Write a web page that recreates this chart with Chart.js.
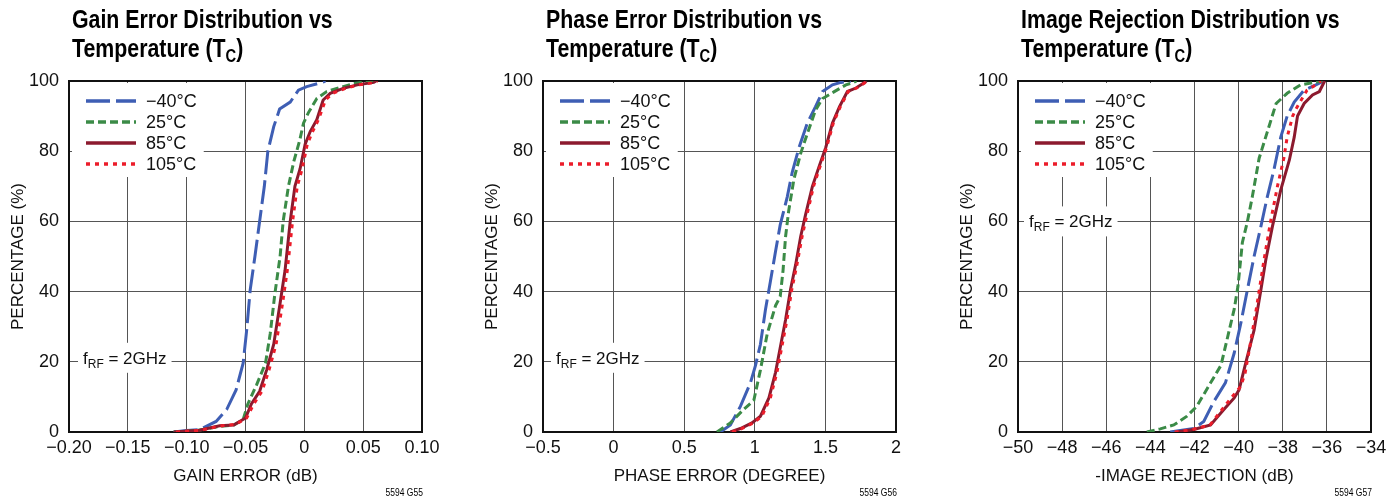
<!DOCTYPE html>
<html>
<head>
<meta charset="utf-8">
<script src="https://cdn.jsdelivr.net/npm/chart.js@4.4.1/dist/chart.umd.min.js"></script>
<style>
  body { margin: 0; background: #fff; width: 1398px; height: 499px; overflow: hidden; position: relative;
         font-family: 'Liberation Sans', Arial, sans-serif; }
  .box { position: absolute; top: 0; width: 466px; height: 499px; }
  .box canvas { position: absolute; left: 0; top: 0; }
  .title { position: absolute; top: 5px; left: 72px; font-weight: bold; font-size: 26px; line-height: 29px; color: #000;
           white-space: nowrap; transform: scaleX(0.82); transform-origin: left top; }
  .title sub { font-size: 18px; vertical-align: -5px; line-height: 0; }
  .note { position: absolute; top: 487px; right: 43px; font-size: 10px; color: #000; transform: scaleX(0.85); transform-origin: right top; }
</style>
</head>
<body>
<div class="box" style="left:0px">
  <canvas id="gain" width="466" height="499"></canvas>
  <div class="title">Gain Error Distribution vs<br>Temperature (T<sub>C</sub>)</div>
  <div class="note">5594 G55</div>
</div>
<div class="box" style="left:474px">
  <canvas id="phase" width="466" height="499"></canvas>
  <div class="title">Phase Error Distribution vs<br>Temperature (T<sub>C</sub>)</div>
  <div class="note">5594 G56</div>
</div>
<div class="box" style="left:949px">
  <canvas id="image" width="466" height="499"></canvas>
  <div class="title">Image Rejection Distribution vs<br>Temperature (T<sub>C</sub>)</div>
  <div class="note">5594 G57</div>
</div>
<script>
// series names
const seriesNames = ['\u221240\u00b0C', '25\u00b0C', '85\u00b0C', '105\u00b0C'];
const yTicks = [0, 20, 40, 60, 80, 100];

// gain error (dB) vs percentage
const gainTickValues = [-0.2, -0.15, -0.1, -0.05, 0, 0.05, 0.1];
const gainTickLabels = ['\u22120.20', '\u22120.15', '\u22120.10', '\u22120.05', '0', '0.05', '0.10'];
const gainM40 = [[-0.111,0],[-0.1,0.4],[-0.089,0.7],[-0.075,3],[-0.066,6.4],[-0.058,12],[-0.052,19.6],[-0.049,29],[-0.046,40.5],[-0.042,50],[-0.038,60],[-0.034,70],[-0.031,80],[-0.026,87],[-0.021,92],[-0.012,94],[-0.005,97.4],[0.002,98.4],[0.016,99.7],[0.018,100]];
const gain25 = [[-0.111,0],[-0.09,0.5],[-0.072,1.6],[-0.06,2],[-0.052,3.5],[-0.048,8],[-0.0405,13.5],[-0.033,19.6],[-0.029,28],[-0.025,39.5],[-0.0206,50],[-0.018,60],[-0.0135,70],[-0.009,77],[-0.004,83],[-0.0007,88],[0.0035,91],[0.0106,95],[0.019,97],[0.042,99.3],[0.059,100]];
const gain85 = [[-0.111,0],[-0.089,0.5],[-0.072,1.8],[-0.06,2],[-0.05,4],[-0.045,8],[-0.038,11.6],[-0.032,17.7],[-0.026,25],[-0.0206,36.7],[-0.0164,46],[-0.012,60],[-0.008,70],[-0.0036,75],[0.0007,82],[0.005,85.6],[0.0106,89],[0.016,94.6],[0.022,96.5],[0.033,97.9],[0.045,98.9],[0.059,99.6],[0.061,100]];
const gain105 = [[-0.109,0],[-0.088,0.5],[-0.07,1.8],[-0.058,2.2],[-0.049,4],[-0.043,8],[-0.036,11.6],[-0.03,17.7],[-0.024,25],[-0.0185,36.7],[-0.0145,46],[-0.01,60],[-0.006,70],[-0.0018,75],[0.0025,82],[0.007,85.6],[0.012,89],[0.018,94.6],[0.024,96.5],[0.035,97.9],[0.046,98.9],[0.06,99.6],[0.062,100]];

// phase error (degree) vs percentage
const phaseTickValues = [-0.5, 0, 0.5, 1, 1.5, 2];
const phaseTickLabels = ['\u22120.5', '0', '0.5', '1', '1.5', '2'];
const phaseM40 = [[0.756,0],[0.827,2],[0.898,7.3],[0.969,14],[1.005,19],[1.04,25],[1.076,35],[1.111,43],[1.147,51.5],[1.18,59],[1.23,67],[1.265,74],[1.313,81],[1.372,88],[1.43,92.7],[1.48,97],[1.55,98.9],[1.61,99.6],[1.68,100]];
const phase25 = [[0.732,0],[0.827,2.6],[0.92,6.4],[0.993,9],[1.04,17.7],[1.088,28],[1.147,36],[1.18,38.6],[1.2,46],[1.218,55.7],[1.24,63],[1.277,72],[1.325,79.4],[1.372,85],[1.43,91.7],[1.48,95],[1.56,96.9],[1.645,98.9],[1.7,99.6],[1.72,100]];
const phase85 = [[0.827,0],[0.898,1],[0.98,2.6],[1.04,4.5],[1.1,9.7],[1.147,17],[1.18,24],[1.218,32],[1.253,40.6],[1.289,47.6],[1.325,55.7],[1.36,62],[1.408,70],[1.455,75.6],[1.502,81],[1.55,88],[1.6,92.7],[1.656,97],[1.716,98],[1.775,99.5],[1.79,100]];
const phase105 = [[0.84,0],[0.91,1],[0.99,2.6],[1.05,4.5],[1.11,9.7],[1.157,17],[1.19,24],[1.228,32],[1.262,40.6],[1.298,47.6],[1.335,55.7],[1.37,62],[1.416,70],[1.462,75.6],[1.508,81],[1.556,88],[1.606,92.7],[1.662,97],[1.722,98],[1.78,99.5],[1.8,100]];

// -image rejection (dB) vs percentage
const imageTickValues = [-50, -48, -46, -44, -42, -40, -38, -36, -34];
const imageTickLabels = ['\u221250', '\u221248', '\u221246', '\u221244', '\u221242', '\u221240', '\u221238', '\u221236', '\u221234'];
const imageM40 = [[-43.1,0],[-42.03,1],[-41.58,3],[-41.12,8.7],[-40.6,14],[-40.2,22.5],[-39.9,31],[-39.6,40.6],[-39.3,50],[-38.99,58.6],[-38.7,67],[-38.4,74.7],[-38.09,84],[-37.8,90],[-37.48,94],[-37.03,97.4],[-36.5,98.9],[-36.2,99.8],[-36.1,100]];
const image25 = [[-44.16,0],[-43.55,0.9],[-42.94,2],[-42.34,4.5],[-41.9,7.3],[-41.27,14],[-40.8,19],[-40.5,27],[-40.2,35],[-40.03,41.5],[-39.83,54],[-39.6,60],[-39.38,67],[-39.07,78],[-38.7,85.5],[-38.3,93.6],[-37.8,96.5],[-37.2,98.9],[-36.4,99.8],[-36.2,100]];
const image85 = [[-42.8,0],[-42.03,0.7],[-41.27,2],[-40.67,6.4],[-40.2,9.7],[-39.98,12],[-39.68,19.6],[-39.3,29],[-38.99,40.5],[-38.77,49],[-38.47,58.5],[-38.09,69],[-37.7,77.5],[-37.48,84],[-37.33,90],[-37.03,93.6],[-36.65,96],[-36.34,97],[-36.1,100]];
const image105 = [[-42.9,0],[-42.1,0.7],[-41.3,2],[-40.75,6.4],[-40.3,10],[-39.9,13],[-39.7,17],[-39.5,24],[-39.2,35],[-38.85,49],[-38.55,60],[-38.24,70],[-37.95,78],[-37.8,84],[-37.55,90],[-37.4,92],[-36.9,97.4],[-36.6,98.5],[-36.27,100]];

const FONT = "'Liberation Sans', Arial, sans-serif";
const colors = ['#3e5eb4', '#3b8b47', '#8c1a2e', '#ec1c2a'];
const dashes = [[24, 6], [8, 4], [], [4, 5]];

function toPoints(arr) {
    return arr.map(function (p) { return {x: p[0], y: p[1]}; });
}

// legend box and f_RF note drawn inside the plot, over the grid
const insideNotes = {
    id: 'insideNotes',
    beforeDatasetsDraw: function (chart, args, opts) {
        const ctx = chart.ctx, area = chart.chartArea;
        ctx.save();
        ctx.font = '18px ' + FONT;
        let wMax = 0;
        chart.data.datasets.forEach(function (d) { wMax = Math.max(wMax, ctx.measureText(d.label).width); });
        ctx.fillStyle = '#fff';
        ctx.fillRect(area.left + 3, area.top + 2, 17 + 50 + 10 + wMax + 4, 94);
        chart.data.datasets.forEach(function (d, i) {
            const y = area.top + 20 + i * 21;
            ctx.strokeStyle = d.borderColor;
            ctx.lineWidth = 3.5;
            ctx.setLineDash(d.borderDash);
            ctx.beginPath();
            ctx.moveTo(area.left + 17, y);
            ctx.lineTo(area.left + 67, y);
            ctx.stroke();
            ctx.setLineDash([]);
            ctx.fillStyle = '#111';
            ctx.textBaseline = 'middle';
            ctx.fillText(d.label, area.left + 77, y + 1);
        });
        // f_RF = 2GHz
        const ty = chart.scales.y.getPixelForValue(opts.noteAt) + opts.noteShift;
        const tx = area.left + opts.noteLeft;
        ctx.font = '17px ' + FONT;
        const w1 = ctx.measureText('f').width;
        ctx.font = '12px ' + FONT;
        const w2 = ctx.measureText('RF').width;
        ctx.font = '17px ' + FONT;
        const w3 = ctx.measureText(' = 2GHz').width;
        ctx.fillStyle = '#fff';
        ctx.fillRect(tx - 5, ty - 15, w1 + w2 + w3 + 10, 30);
        ctx.fillStyle = '#111';
        ctx.textBaseline = 'alphabetic';
        ctx.fillText('f', tx, ty + 6);
        ctx.font = '12px ' + FONT;
        ctx.fillText('RF', tx + w1, ty + 10);
        ctx.font = '17px ' + FONT;
        ctx.fillText(' = 2GHz', tx + w1 + w2, ty + 6);
        ctx.restore();
    }
};

function makeChart(id, series, tickValues, tickLabels, xTitle, noteAt, noteShift, noteLeft) {
    const datasets = series.map(function (s, i) {
        return {
            label: seriesNames[i],
            data: toPoints(s),
            borderColor: colors[i],
            borderDash: dashes[i],
            borderWidth: 3,
            borderCapStyle: 'butt',
            pointRadius: 0,
            tension: 0,
            fill: false,
            order: [3, 2, 1, 0][i]
        };
    });
    return new Chart(document.getElementById(id).getContext('2d'), {
        type: 'line',
        data: {datasets: datasets},
        options: {
            responsive: false,
            animation: false,
            events: [],
            layout: {padding: {top: 81, right: 44, bottom: 11, left: 0}},
            plugins: {
                legend: {display: false},
                tooltip: {enabled: false},
                insideNotes: {noteAt: noteAt, noteShift: noteShift, noteLeft: noteLeft}
            },
            scales: {
                x: {
                    type: 'linear',
                    min: tickValues[0],
                    max: tickValues[tickValues.length - 1],
                    afterBuildTicks: function (s) { s.ticks = tickValues.map(function (v) { return {value: v}; }); },
                    afterFit: function (s) { s.height = 56; },
                    ticks: {
                        autoSkip: false, maxRotation: 0, padding: 5, color: '#111',
                        font: {family: FONT, size: 18},
                        callback: function (v, i) { return tickLabels[i]; }
                    },
                    grid: {color: '#555', lineWidth: 1, drawTicks: false},
                    border: {color: '#111', width: 2},
                    title: {display: true, text: xTitle, color: '#111', font: {family: FONT, size: 17}, padding: {top: 0, bottom: 1}}
                },
                y: {
                    min: 0, max: 100,
                    afterBuildTicks: function (s) { s.ticks = yTicks.map(function (v) { return {value: v}; }); },
                    afterFit: function (s) { s.width = 69; },
                    ticks: {padding: 10, color: '#111', font: {family: FONT, size: 18}},
                    grid: {color: '#555', lineWidth: 1, drawTicks: false},
                    border: {color: '#111', width: 2},
                    title: {display: true, text: 'PERCENTAGE (%)', color: '#111', font: {family: FONT, size: 17}, padding: {top: 8, bottom: 0}}
                },
                x2: {
                    type: 'linear', position: 'top', display: true,
                    min: tickValues[0], max: tickValues[tickValues.length - 1],
                    afterFit: function (s) { s.height = 0; },
                    ticks: {display: false}, grid: {display: false, drawTicks: false},
                    border: {color: '#111', width: 2}
                },
                y2: {
                    position: 'right', display: true, min: 0, max: 100,
                    afterFit: function (s) { s.width = 0; },
                    ticks: {display: false}, grid: {display: false, drawTicks: false},
                    border: {color: '#111', width: 2}
                }
            }
        },
        plugins: [insideNotes]
    });
}

makeChart('gain', [gainM40, gain25, gain85, gain105], gainTickValues, gainTickLabels, 'GAIN ERROR (dB)', 20, -4, 14);
makeChart('phase', [phaseM40, phase25, phase85, phase105], phaseTickValues, phaseTickLabels, 'PHASE ERROR (DEGREE)', 20, -4, 13);
makeChart('image', [imageM40, image25, image85, image105], imageTickValues, imageTickLabels, '-IMAGE REJECTION (dB)', 60, 0, 11);
</script>
</body>
</html>
